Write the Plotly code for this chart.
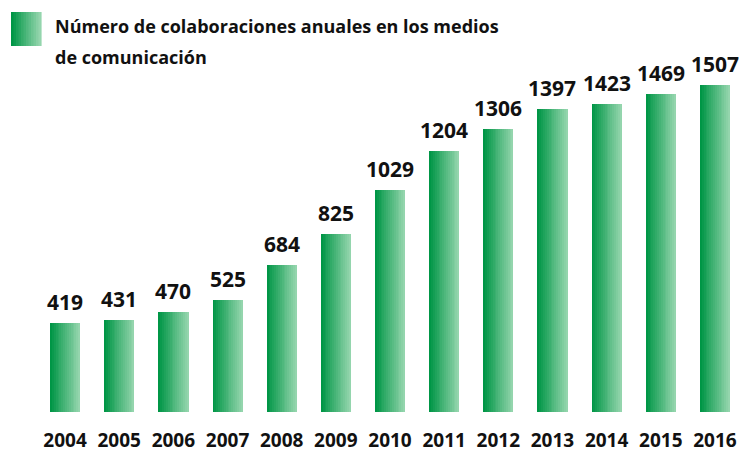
import plotly.graph_objects as go

years = ["2004", "2005", "2006", "2007", "2008", "2009", "2010",
         "2011", "2012", "2013", "2014", "2015", "2016"]
values = [419, 431, 470, 525, 684, 825, 1029, 1204, 1306, 1397, 1423, 1469, 1507]
title_lines = ["Número de colaboraciones anuales en los medios", "de comunicación"]

FONT = "Open Sans"
left_rgb = (0, 150, 70)
right_rgb = (148, 213, 173)
N = 16
bar_w = 0.555


def mix(t):
    return "rgb(%d,%d,%d)" % tuple(round(a + (b - a) * t) for a, b in zip(left_rgb, right_rgb))


fig = go.Figure()
for i in range(N):
    fig.add_trace(go.Bar(
        x=years, y=values,
        width=bar_w / N * 1.08,
        offset=-bar_w / 2 + i * bar_w / N,
        marker=dict(color=mix(i / (N - 1)), line=dict(width=0)),
        hoverinfo="skip", showlegend=False,
    ))

annotations = [
    dict(x=idx, y=v, xref="x", yref="y", text=str(v), showarrow=False,
         yanchor="bottom", yshift=5,
         font=dict(family=FONT, size=21, color="#111", weight="bold"))
    for idx, v in enumerate(values)
]
for k, line in enumerate(title_lines):
    annotations.append(dict(
        x=0, y=1, xref="paper", yref="paper", xanchor="left", yanchor="top",
        xshift=15, yshift=28 - 31 * k, align="left", showarrow=False, text=line,
        font=dict(family=FONT, size=18, color="#111", weight="bold")))

shapes = []
M = 12
for i in range(M):
    shapes.append(dict(
        type="rect", xref="paper", yref="paper", xsizemode="pixel", ysizemode="pixel",
        xanchor=0, yanchor=1,
        x0=-27 + 30 * i / M, x1=-27 + 30 * (i + 1) / M + 0.6,
        y0=-6, y1=28, line=dict(width=0), fillcolor=mix(i / (M - 1)), layer="above"))

fig.update_layout(
    width=742, height=452,
    margin=dict(l=38, r=0, t=40, b=40),
    barmode="overlay", bargap=0,
    plot_bgcolor="white", paper_bgcolor="white",
    annotations=annotations, shapes=shapes,
    xaxis=dict(type="category", range=[-0.5, 12.5], showgrid=False, zeroline=False,
               showline=False, ticks="", ticklabelstandoff=15, automargin=False,
               tickfont=dict(family=FONT, size=19, color="#111", weight="bold")),
    yaxis=dict(range=[12, 1714], showgrid=False, zeroline=False, showline=False,
               showticklabels=False, ticks="", automargin=False),
)

fig.write_html("out.html", config={"displayModeBar": False},
               post_script="document.body.style.margin='0';")
